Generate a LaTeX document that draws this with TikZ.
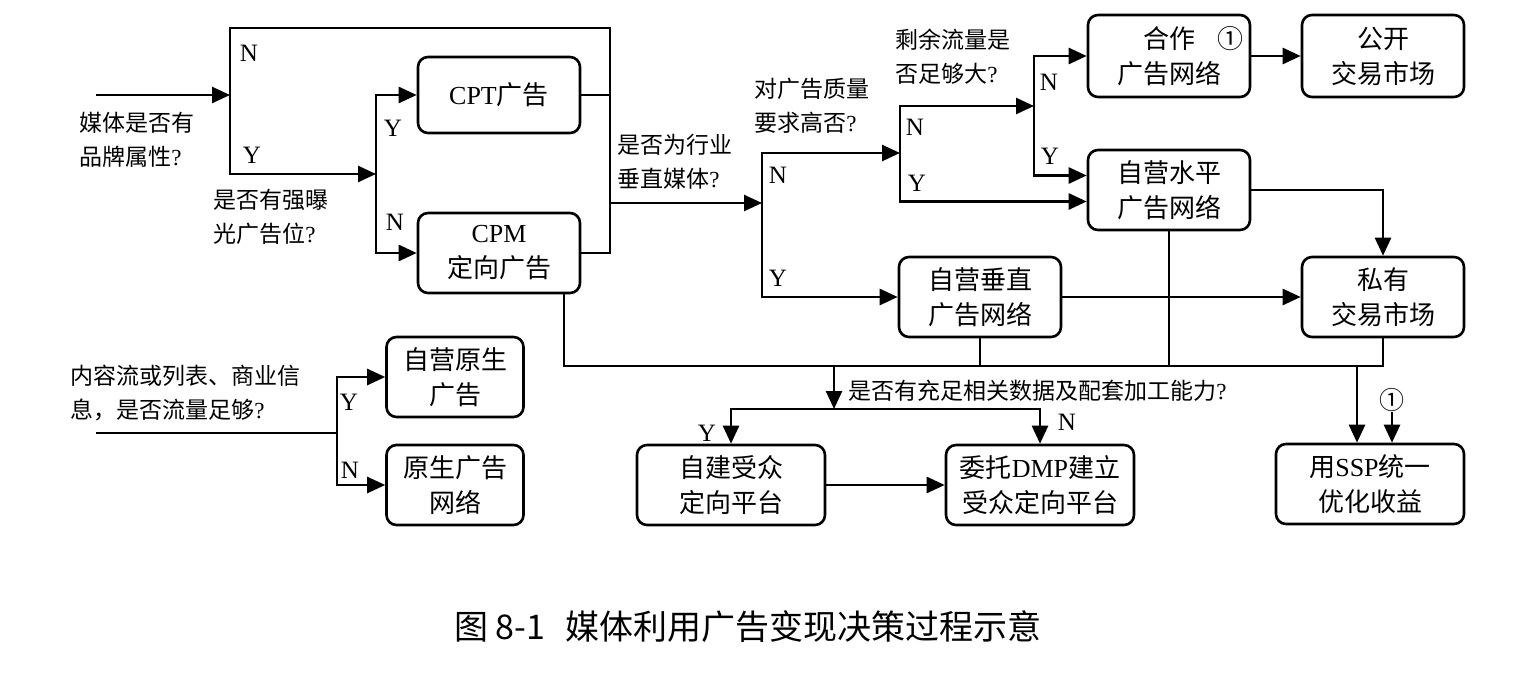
\documentclass[tikz,border=0pt]{standalone}
\usepackage{fontspec}
\setmainfont{Liberation Serif}
\newfontfamily\cjk{Noto Sans CJK SC}
\usetikzlibrary{arrows.meta, calc}
\newcommand\latn{\rmfamily}
\newcommand\boxfont{\cjk\fontsize{13}{17.5}\selectfont}
\newcommand\askfont{\cjk\fontsize{11.5}{17}\selectfont}
\newcommand\ynfont{\rmfamily\fontsize{12.5}{14}\selectfont}
\newcommand\capfont{\cjk\fontsize{17}{20}\selectfont}

\begin{document}
\begin{tikzpicture}[
  x=0.5pt, y=-0.5pt,
  box/.style ={draw, rounded corners=5pt, line width=1.3pt, align=center, inner sep=2pt, font=\boxfont},
  cell/.style={box, minimum width=81pt, minimum height=40pt},
  wide/.style={box, minimum width=94pt, minimum height=40pt},
  small/.style={box, minimum width=68.5pt, minimum height=40pt},
  ask/.style ={font=\askfont, align=left, anchor=west, inner sep=0pt},
  yn/.style  ={font=\ynfont, inner sep=0pt},
  link/.style={line width=1.3pt},
  flow/.style={link, -{Triangle[length=9pt, width=8pt]}},
]
\useasboundingbox (0,0) rectangle (1514,674);
% ----- boxes -----
\node[cell, minimum height=38pt] (cpt) at (499,95)  {{\latn CPT}广告};
\node[cell]                      (cpm) at (499,253) {{\latn CPM}\\定向广告};
\node[cell, minimum height=41pt] (coop) at (1169,56) {合作\rlap{\hspace{0.85em}①}\\广告网络};
\node[cell, minimum height=41pt] (pubx) at (1383,56) {公开\\交易市场};
\node[cell] (horz) at (1169,190) {自营水平\\广告网络};
\node[cell] (vert) at (980,297)  {自营垂直\\广告网络};
\node[cell] (priv) at (1383,297) {私有\\交易市场};
\node[wide] (self) at (731,485)  {自建受众\\定向平台};
\node[wide] (dmp)  at (1040,485) {委托{\latn DMP}建立\\受众定向平台};
\node[wide] (ssp)  at (1370,484) {用{\latn SSP}统一\\优化收益};
\node[small] (nat)    at (455,377) {自营原生\\广告};
\node[small] (natnet) at (455,485) {原生广告\\网络};
% ----- questions -----
\node[ask] (brandq) at (79,140)  {媒体是否有\\品牌属性{\latn ?}};
\node[ask] (expq)   at (213,217) {是否有强曝\\光广告位{\latn ?}};
\node[ask] (vertq)  at (617,162) {是否为行业\\垂直媒体{\latn ?}};
\node[ask] (qualq)  at (754,106) {对广告质量\\要求高否{\latn ?}};
\node[ask] (surq)   at (895,57)  {剩余流量是\\否足够大{\latn ?}};
\node[ask] (dataq)  at (848,391) {是否有充足相关数据及配套加工能力{\latn ?}};
\node[ask] (natq)   at (70,393)  {内容流或列表、商业信\\息，是否流量足够{\latn ?}};
% ----- Y / N -----
\node[yn] (n1) at (249,53)   {N};
\node[yn] (y1) at (252,155)  {Y};
\node[yn] (y2) at (393,128)  {Y};
\node[yn] (n2) at (395,222)  {N};
\node[yn] (n3) at (778,175)  {N};
\node[yn] (y3) at (778,278)  {Y};
\node[yn] (n4) at (915,127)  {N};
\node[yn] (y4) at (917,183)  {Y};
\node[yn] (n5) at (1049,82)  {N};
\node[yn] (y5) at (1050,156) {Y};
\node[yn] (y6) at (707,433)  {Y};
\node[yn] (n6) at (1067,422) {N};
\node[yn] (y7) at (349,402)  {Y};
\node[yn] (n7) at (350,470)  {N};
\node[yn, font=\cjk\fontsize{12.5}{14}\selectfont] (mark) at (1392,400) {①};
% ----- junctions -----
\coordinate (in1) at (96,95);
\coordinate (q1)  at (230,95);
\coordinate (q2)  at (376,174);
\coordinate (m1)  at (610,203);
\coordinate (q3)  at (762,203);
\coordinate (q4)  at (900,153);
\coordinate (q5)  at (1034,106);
\coordinate (bus) at (1383,366);
\coordinate (dq)  at (834,366);
\coordinate (dsplit) at (834,409);
\coordinate (sspin)  at (1357,366);
\coordinate (in2) at (96,433);
\coordinate (q7)  at (337,433);
% ----- connectors -----
\draw[flow] (in1) -- (q1);
\draw[link] (q1) -- ++(0,-67) -| (m1);
\draw[flow] (q1) |- (q2);
\draw[flow] (q2) |- (cpt.west);
\draw[flow] (q2) |- (cpm.west);
\draw[link] (cpt.east) -| (m1);
\draw[link] (cpm.east) -| (m1);
\draw[flow] (m1) -- (q3);
\draw[flow] (q3) |- (q4);
\draw[flow] (q3) |- (vert.west);
\draw[flow] (q4) |- (q5);
\draw[flow] (q4) |- ([yshift=-5.75pt]horz.west);
\draw[flow] (q5) |- (coop.west);
\draw[flow] (q5) |- ([yshift=7.25pt]horz.west);
\draw[flow] (coop) -- (pubx);
\draw[flow] (horz.east) -| (priv.north);
\draw[flow] (vert) -- (priv);
\draw[link] ([xshift=32.5pt]cpm.south) |- (bus) -- (priv.south);
\draw[link] (vert.south) -- (vert.south |- bus);
\draw[link] (horz.south) -- (horz.south |- bus);
\draw[flow] (dq) -- (dsplit);
\draw[flow] (dsplit) -| (self.north);
\draw[flow] (dsplit) -| (dmp.north);
\draw[flow] (self) -- (dmp);
\draw[flow] (sspin) -- (sspin |- ssp.north);
\draw[flow] (mark) -- (mark |- ssp.north);
\draw[link] (in2) -- (q7);
\draw[flow] (q7) |- (nat.west);
\draw[flow] (q7) |- (natnet.west);
% ----- caption -----
\node[font=\capfont] (caption) at (748,627) {图 8-1\hspace{0.6em}媒体利用广告变现决策过程示意};
\end{tikzpicture}
\end{document}
